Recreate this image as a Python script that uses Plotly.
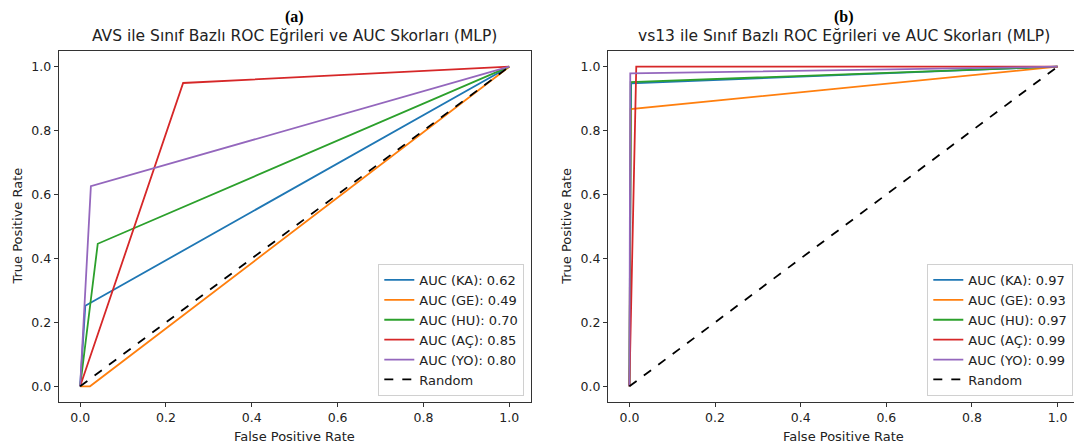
import plotly.graph_objects as go

# ---- data ----
classes = ["KA", "GE", "HU", "AÇ", "YO"]
colors = ["#1f77b4", "#ff7f0e", "#2ca02c", "#d62728", "#9467bd"]

# panel (a): AVS
auc_a = [0.62, 0.49, 0.70, 0.85, 0.80]
fpr_a = [[0, 0.012, 1], [0, 0.023, 1], [0, 0.041, 1], [0, 0.240, 1], [0, 0.025, 1]]
tpr_a = [[0, 0.252, 1], [0, 0.0, 1], [0, 0.446, 1], [0, 0.949, 1], [0, 0.626, 1]]

# panel (b): vs13
auc_b = [0.97, 0.93, 0.97, 0.99, 0.99]
fpr_b = [[0, 0.004, 1], [0, 0.003, 1], [0, 0.003, 1], [0, 0.016, 1], [0, 0.002, 1]]
tpr_b = [[0, 0.948, 1], [0, 0.867, 1], [0, 0.952, 1], [0, 1.0, 1], [0, 0.979, 1]]

random_x = [0, 1]
random_y = [0, 1]

titles = ["AVS ile Sınıf Bazlı ROC Eğrileri ve AUC Skorları (MLP)",
          "vs13 ile Sınıf Bazlı ROC Eğrileri ve AUC Skorları (MLP)"]
panel_tags = ["(a)", "(b)"]
tick_vals = [0.0, 0.2, 0.4, 0.6, 0.8, 1.0]

W, H = 1082, 448
OFF = 8  # page body margin
FONT = "DejaVu Sans"


def px(p):
    return (p - OFF) / W


def py(p):
    return 1 - (p - OFF) / H


fig = go.Figure()

panels = [(fpr_a, tpr_a, auc_a, "x", "y", "legend"),
          (fpr_b, tpr_b, auc_b, "x2", "y2", "legend2")]
for fprs, tprs, aucs, xa, ya, lg in panels:
    for name, col, fx, ty, auc in zip(classes, colors, fprs, tprs, aucs):
        fig.add_trace(go.Scatter(x=fx, y=ty, mode="lines", xaxis=xa, yaxis=ya,
                                 line=dict(color=col, width=1.8),
                                 name=f"AUC ({name}): {auc:.2f}", legend=lg))
    fig.add_trace(go.Scatter(x=random_x, y=random_y, mode="lines", xaxis=xa, yaxis=ya,
                             line=dict(color="black", width=1.8, dash="dash"),
                             name="Random", legend=lg))

# page-pixel layout of frames
fx_a = (58.7, 530.7)
fx_b = (608.0, 1079.0)
fy = (50.7, 402.3)
ydom = [py(fy[1]), py(fy[0])]

axis_common = dict(range=[-0.05, 1.05], tickvals=tick_vals, tickformat=".1f",
                   showgrid=False, zeroline=False, showline=True, mirror=True,
                   linecolor="#333333", linewidth=1, ticks="outside", ticklen=4,
                   tickcolor="#333333", tickfont=dict(family=FONT, size=12.5, color="#222"))

leg_common = dict(xanchor="right", yanchor="bottom",
                  bgcolor="rgba(255,255,255,0.85)", bordercolor="#d0d0d0", borderwidth=1,
                  font=dict(family=FONT, size=13, color="#222"), tracegroupgap=0,
                  itemwidth=30)

fig.update_layout(
    width=W, height=H, margin=dict(l=0, r=0, t=0, b=0),
    paper_bgcolor="white", plot_bgcolor="white",
    xaxis=dict(domain=[px(fx_a[0]), px(fx_a[1])], anchor="y", **axis_common),
    yaxis=dict(domain=ydom, anchor="x", **axis_common),
    xaxis2=dict(domain=[px(fx_b[0]), px(fx_b[1])], anchor="y2", **axis_common),
    yaxis2=dict(domain=ydom, anchor="x2", **axis_common),
    legend=dict(x=px(524.3), y=py(396), **leg_common),
    legend2=dict(x=px(1073.3), y=py(396), **leg_common),
    showlegend=True,
)

anns = []
for (x0, x1), t, tag in zip([fx_a, fx_b], titles, panel_tags):
    cx = px((x0 + x1) / 2)
    anns.append(dict(x=cx, y=py(17), xref="paper", yref="paper", text=f"<b>{tag}</b>",
                     showarrow=False, xanchor="center", yanchor="middle",
                     font=dict(family="Liberation Serif", size=16, color="black")))
    anns.append(dict(x=cx, y=py(36.5), xref="paper", yref="paper", text=t,
                     showarrow=False, xanchor="center", yanchor="middle",
                     font=dict(family=FONT, size=15.5, color="#222")))
    anns.append(dict(x=cx, y=py(436), xref="paper", yref="paper", text="False Positive Rate",
                     showarrow=False, xanchor="center", yanchor="middle",
                     font=dict(family=FONT, size=13, color="#222")))
    anns.append(dict(x=px(x0 - 41.7), y=(ydom[0] + ydom[1]) / 2, xref="paper", yref="paper",
                     text="True Positive Rate", textangle=-90,
                     showarrow=False, xanchor="center", yanchor="middle",
                     font=dict(family=FONT, size=13, color="#222")))
fig.update_layout(annotations=anns)

fig.write_html("out.html")
